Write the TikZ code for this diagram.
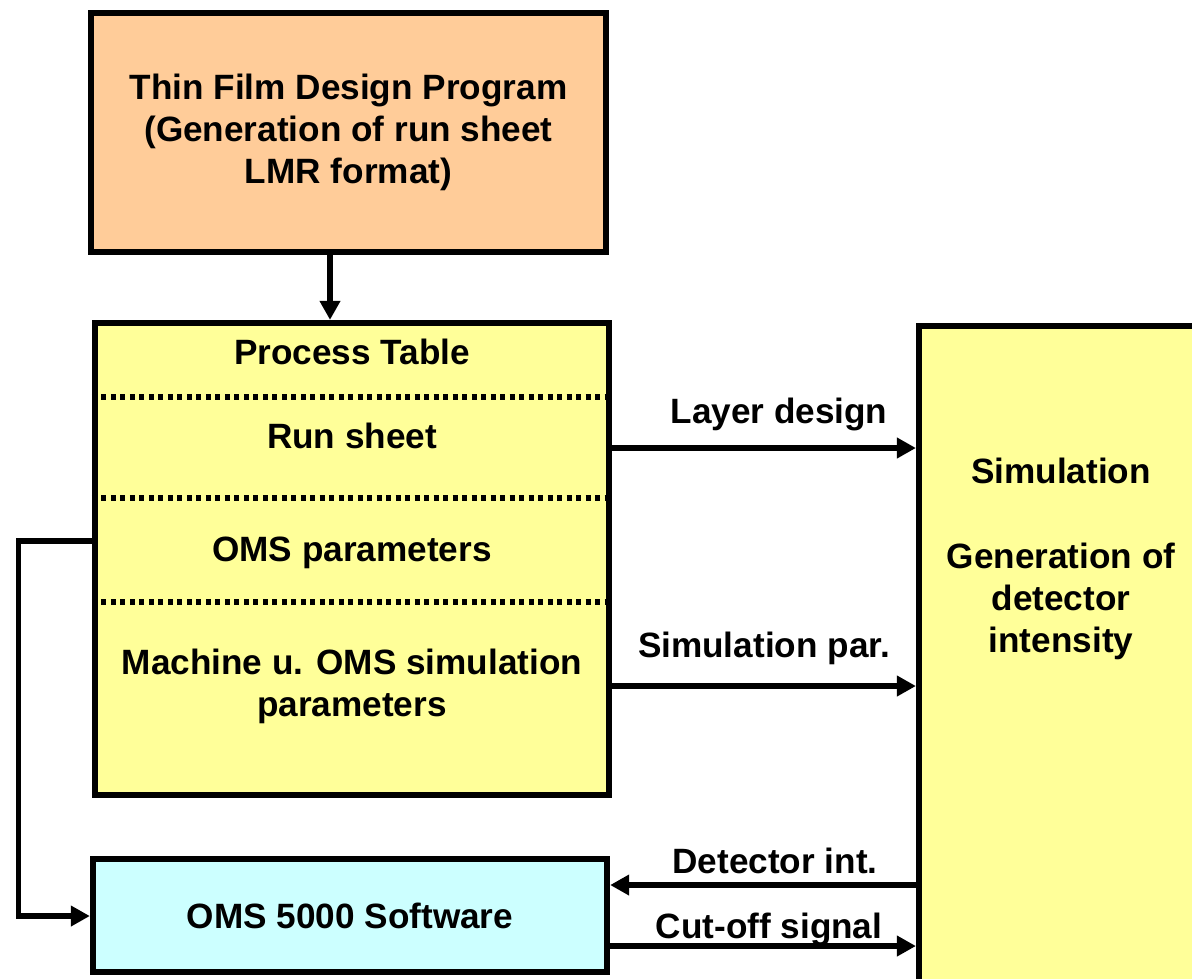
\documentclass[tikz,border=0pt]{standalone}
\usepackage{fontspec}
\setmainfont{Liberation Sans}
\usetikzlibrary{arrows.meta}
\definecolor{filmpeach}{HTML}{FFCC99}
\definecolor{tableyellow}{HTML}{FFFF99}
\definecolor{omscyan}{HTML}{CCFFFF}
\tikzset{
    txt/.style={font=\fontsize{10}{12}\selectfont\bfseries,align=center},
    box/.style={draw,line width=1.7pt,inner sep=0pt,txt},
    lbl/.style={txt,anchor=base},
    conn/.style={line width=1.7pt,-{Triangle[length=5.4pt,width=5.6pt]}},
    sep/.style={line width=1.7pt,dash pattern=on 1.4pt off 1.3pt}
}
\begin{document}
\begin{tikzpicture}[x=0.01cm,y=-0.01cm]
            \useasboundingbox (0,0) rectangle (1192,978);

            \begin{scope}[every node/.style={box}]
                \node[fill=filmpeach,minimum width=5.15cm,minimum height=2.39cm] (thin) at (348.5,132.5)
                    {Thin Film Design Program\\(Generation of run sheet\\LMR format)};
                \node[fill=tableyellow,minimum width=5.14cm,minimum height=4.72cm] (table) at (352,559) {};
                \node[fill=tableyellow,minimum width=3.41cm,minimum height=7.14cm] (sim) at (1089.5,683) {};
                \node[fill=omscyan,minimum width=5.14cm,minimum height=1.13cm] (oms) at (350,915.5) {OMS 5000 Software};
            \end{scope}

            % rows of the process table
            \draw[sep] (table.west |- 0,397) -- (table.east |- 0,397);
            \draw[sep] (table.west |- 0,498) -- (table.east |- 0,498);
            \draw[sep] (table.west |- 0,602) -- (table.east |- 0,602);

            \begin{scope}[every node/.style={txt}]
                \node[anchor=base] (head) at (352,364) {Process Table};
                \node[anchor=base] (run) at (352,448) {Run sheet};
                \node[anchor=base] (par) at (352,561) {OMS parameters};
                \node (mach) at (352,686) {Machine u. OMS simulation\\parameters};
                \node (simtext) at (1061,559) {Simulation\\[12pt]Generation of\\detector\\intensity};
            \end{scope}

            \coordinate (loop) at (18.5,916);

            \begin{scope}
                \path [conn] (thin.south -| 330,0) edge node {} (table.north -| 330,0);
                \path [conn] (table.east |- 0,448) edge node[lbl,xshift=0.15cm,yshift=0.25cm] {Layer design} (sim.west |- 0,448);
                \path [conn] (table.east |- 0,686) edge node[lbl,yshift=0.29cm] {Simulation par.} (sim.west |- 0,686);
                \path [conn] (sim.west |- 0,885) edge node[lbl,xshift=0.12cm,yshift=0.12cm] {Detector int.} (oms.east |- 0,885);
                \path [conn] (oms.east |- 0,946) edge node[lbl,xshift=0.06cm,yshift=0.08cm] {Cut-off signal} (sim.west |- 0,946);
                \draw [conn] (table.west |- 0,541) -| (loop) -- (oms.west |- loop);
            \end{scope}
            \end{tikzpicture}
\end{document}
